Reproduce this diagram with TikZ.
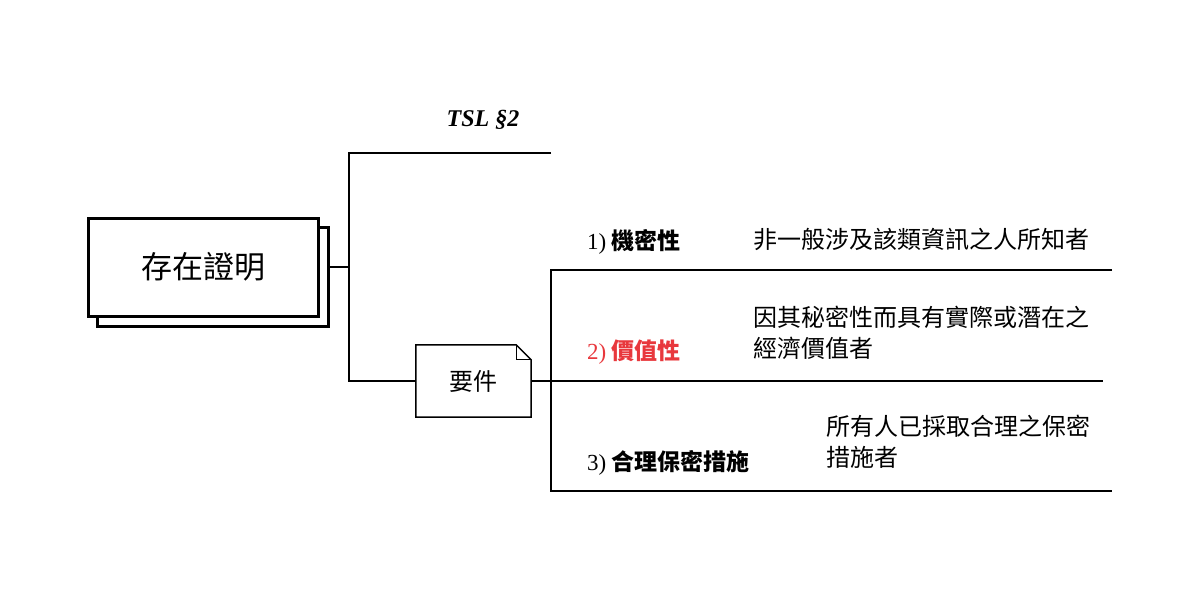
\documentclass[tikz,border=0pt]{standalone}
\usepackage{fontspec}
\setmainfont{Liberation Serif}
\newfontfamily\cjk{Noto Sans CJK TC}
\definecolor{redlab}{HTML}{E8383D}
\begin{document}
\begin{tikzpicture}[x=1pt,y=-1pt,
  conn/.style={line width=1.6pt},
  labtext/.style={anchor=west,inner sep=0pt,font=\fontsize{23}{26}\selectfont\bfseries\cjk},
  desctext/.style={anchor=north west,inner sep=0pt,align=left,font=\fontsize{24}{31}\selectfont\cjk}]
\useasboundingbox (0,0) rectangle (1200,590);
% main stacked box
\draw[line width=3pt,fill=white] (97,227) rectangle (328,326);
\node[draw,line width=3pt,fill=white,minimum width=230pt,minimum height=98pt,inner sep=0pt,
  font=\fontsize{31}{36}\selectfont\cjk] (main) at (203,267) {存在證明};
\coordinate (back) at (328,267);
% title
\node[font=\fontsize{24}{28}\selectfont\bfseries\itshape] (tsl) at (483,120) {TSL §2};
% requirement document node
\node[minimum width=115pt,minimum height=72pt,inner sep=0pt,
  font=\fontsize{24}{28}\selectfont\cjk] (req) at (473.5,381) {要件};
\draw[line width=1.5pt,line join=miter] (req.north west) -- ([xshift=-15pt]req.north east)
  -- ([yshift=-15pt]req.north east) -- (req.south east) -- (req.south west) -- cycle;
\draw[line width=1pt] ([xshift=-15pt]req.north east) -- ([xshift=-15pt,yshift=-15pt]req.north east)
  -- ([yshift=-15pt]req.north east);
% connectors
\coordinate (j1) at (349,267);
\coordinate (tslend) at (551,153);
\coordinate (j2) at (551,381);
\coordinate (topend) at (1112,270);
\coordinate (midend) at (1103,381);
\coordinate (botend) at (1112,491);
\draw[conn] (back) -- (j1);
\draw[conn] (tslend) -| (j1) |- (req.west);
\draw[conn] (req.east) -- (midend);
\draw[conn] (topend) -| (j2) |- (botend);
% labels
\node[labtext] (l1) at (587,242) {{\rmfamily\mdseries 1)} 機密性};
\node[labtext,text=redlab] (l2) at (587,352) {{\rmfamily\mdseries 2)} 價值性};
\node[labtext] (l3) at (587,463) {{\rmfamily\mdseries 3)} 合理保密措施};
% descriptions
\node[desctext] (d1) at (753,228) {非一般涉及該類資訊之人所知者};
\node[desctext] (d2) at (753,306) {因其秘密性而具有實際或潛在之\\經濟價值者};
\node[desctext] (d3) at (826,415) {所有人已採取合理之保密\\措施者};
\end{tikzpicture}
\end{document}
